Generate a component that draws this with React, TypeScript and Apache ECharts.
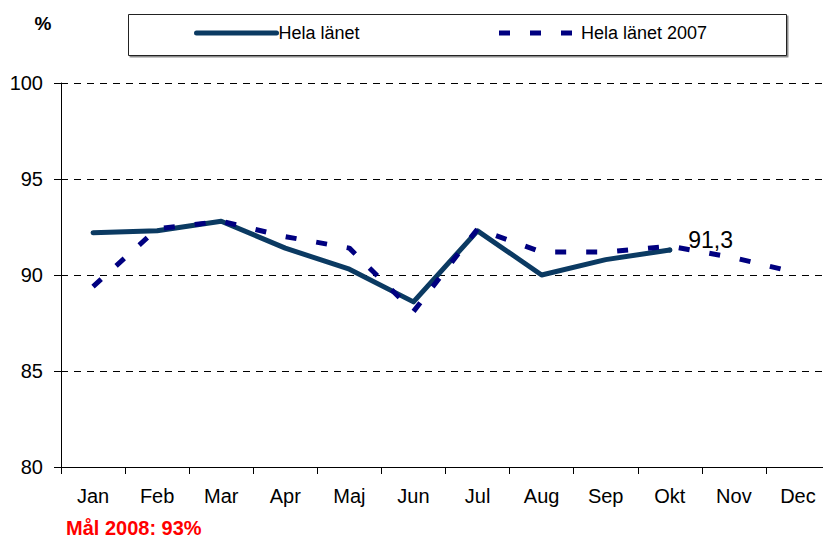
import React, { useEffect, useRef } from "react";
import * as echarts from "echarts";

const months = ["Jan", "Feb", "Mar", "Apr", "Maj", "Jun", "Jul", "Aug", "Sep", "Okt", "Nov", "Dec"];
const helaLanet = [92.2, 92.3, 92.8, 91.4, 90.3, 88.6, 92.3, 90.0, 90.8, 91.3];
const helaLanet2007 = [89.4, 92.4, 92.8, 92.0, 91.4, 88.1, 92.4, 91.2, 91.2, 91.5, 90.9, 90.1];
const yTicks = { min: 80, max: 100, interval: 5 };
const seriesNames = ["Hela länet", "Hela länet 2007"];
const unitLabel = "%";
const goalText = "Mål 2008: 93%";

const FONT = "Arial, 'Liberation Sans', sans-serif";
const SOLID = "#0b3a62";
const NAVY = "#000080";

export default function App() {
  const ref = useRef<HTMLDivElement>(null);
  useEffect(() => {
    if (!ref.current) return;
    const chart = echarts.init(ref.current, null, { renderer: "svg" });
    const lastIdx = helaLanet.length - 1;
    const solidData = helaLanet.map((v, i) =>
      i === lastIdx
        ? {
            value: v,
            symbol: "circle",
            symbolSize: 5,
            itemStyle: { color: SOLID, borderWidth: 0 },
            label: {
              show: true,
              position: "right",
              distance: 5,
              offset: [11, -10],
              fontSize: 23,
              fontFamily: FONT,
              color: "#000",
              formatter: (p: any) => String(p.value).replace(".", ","),
            },
          }
        : v
    );
    chart.setOption({
      animation: false,
      backgroundColor: "#fff",
      textStyle: { fontFamily: FONT },
      grid: { left: 61, right: 0, top: 83, bottom: 72, containLabel: false },
      legend: {
        left: 194,
        top: 23,
        itemWidth: 80,
        itemHeight: 20,
        itemGap: 0,
        padding: 0,
        z: 10,
        lineStyle: { width: 5 },
        itemStyle: { color: "rgba(0,0,0,0)", borderWidth: 0, opacity: 0 },
        textStyle: {
          fontSize: 18,
          fontFamily: FONT,
          color: "#000",
          width: 218,
          lineHeight: 20,
          padding: [0, 0, 0, -3],
        },
        data: seriesNames,
      },
      xAxis: {
        type: "category",
        data: months,
        boundaryGap: true,
        axisLine: { show: true, lineStyle: { color: "#000", width: 1 } },
        axisTick: { show: true, length: 7, inside: false, interval: 0, lineStyle: { color: "#000" } },
        axisLabel: { fontSize: 20, color: "#000", margin: 19, interval: 0, fontFamily: FONT },
        splitLine: { show: false },
      },
      yAxis: {
        type: "value",
        min: yTicks.min,
        max: yTicks.max,
        interval: yTicks.interval,
        axisLine: { show: true, lineStyle: { color: "#000", width: 1 } },
        axisTick: { show: true, length: 7, inside: false, lineStyle: { color: "#000" } },
        axisLabel: { fontSize: 20, color: "#000", margin: 18, fontFamily: FONT },
        splitLine: { show: true, lineStyle: { color: "#000", width: 1, type: [7, 6] } },
      },
      series: [
        {
          name: seriesNames[0],
          type: "line",
          data: solidData,
          symbol: "none",
          showSymbol: true,
          lineStyle: { color: SOLID, width: 5, cap: "round", join: "round" },
          itemStyle: { color: SOLID },
          z: 2,
        },
        {
          name: seriesNames[1],
          type: "line",
          data: helaLanet2007,
          symbol: "none",
          lineStyle: { color: NAVY, width: 5, type: [11, 20], cap: "butt" },
          itemStyle: { color: NAVY },
          z: 3,
        },
      ],
      graphic: [
        {
          type: "rect",
          z: 0,
          shape: { x: 128.5, y: 14.5, width: 658, height: 41 },
          style: {
            fill: "#fff",
            stroke: "#222",
            lineWidth: 1,
            shadowColor: "rgba(0,0,0,0.45)",
            shadowOffsetX: 1.5,
            shadowOffsetY: 1.5,
            shadowBlur: 0,
          },
        },
        {
          type: "text",
          x: 43,
          y: 23,
          style: {
            text: unitLabel,
            font: `bold 19px ${FONT}`,
            fill: "#000",
            textAlign: "center",
            textVerticalAlign: "middle",
          },
        },
        {
          type: "text",
          x: 66,
          y: 528,
          style: {
            text: goalText,
            font: `bold 20px ${FONT}`,
            fill: "#ff0000",
            textAlign: "left",
            textVerticalAlign: "middle",
          },
        },
      ],
    });
    return () => chart.dispose();
  }, []);
  return (
    <div
      ref={ref}
      style={{ position: "fixed", left: 0, top: 0, width: 830, height: 539 }}
    />
  );
}
